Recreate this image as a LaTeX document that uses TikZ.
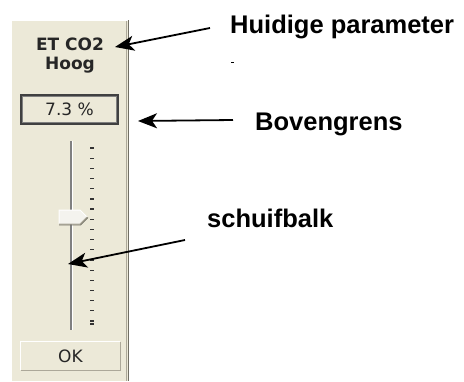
\documentclass[tikz,border=0pt]{standalone}
\usepackage{fontspec}
\setmainfont{Liberation Sans}
\newfontfamily\paneelfont{DejaVu Sans}
\usetikzlibrary{arrows.meta}
\definecolor{paneel}{HTML}{ECE9D8}
\definecolor{schaduw}{HTML}{ACA899}
\definecolor{donker}{HTML}{716F64}
\definecolor{knop}{HTML}{F4F3EE}

\begin{document}
\begin{tikzpicture}[x=1pt, y=-1pt,
    uitleg/.style={font=\fontsize{25.5}{30}\selectfont\bfseries, inner sep=0pt, anchor=base west},
    paneeltekst/.style={font=\paneelfont\fontsize{17}{20}\selectfont, text=black!85, inner sep=0pt},
    titeltekst/.style={font=\paneelfont\fontsize{17}{19}\selectfont\bfseries, text=black!85, inner sep=0pt},
    streep/.style={black!80, line width=1.2pt},
    pijl/.style={-{Stealth[length=19pt,width=15pt,inset=5pt]}, line width=1.8pt}]

    \useasboundingbox (0,0) rectangle (464,381);

    % Paneel met randen
    \fill[paneel] (11,20) rectangle (129,381);
    \draw[white, line width=1pt] (11.5,381) -- (11.5,20.5) -- (128,20.5);
    \draw[schaduw, line width=1pt] (126.5,21) -- (126.5,381);
    \draw[donker, line width=1.2pt] (128.4,20) -- (128.4,381);

    % Titel van de parameter
    \node (titel) [titeltekst, align=center, anchor=north] at (70,38) {ET CO2\\Hoog};

    % Vak met de bovengrens
    \node (grens) [paneeltekst, draw=black!75, line width=1.2pt, fill=paneel, minimum width=97pt, minimum height=29pt] at (69.5,109.5) {7.3 \%};
    \draw[gray, line width=0.8pt] ([shift={(2,2)}]grens.north west) rectangle ([shift={(-2,-2)}]grens.south east);

    % Groef van de schuifbalk
    \coordinate (groefboven) at (71,141);
    \coordinate (groefonder) at (71,330);
    \draw[gray, line width=1.5pt] (groefboven) -- (groefonder);
    \draw[white, line width=1.5pt] ([xshift=1.5pt]groefboven) -- ([xshift=1.5pt]groefonder);

    % Streepjes naast de groef
    \foreach \i in {0,...,17}
      \draw[streep] (90,148+\i*10.18) -- (94,148+\i*10.18);
    \draw[streep] (90,324) -- (94,324);

    % Schuif
    \fill[knop] (59,210) -- (80,210) -- (87,217) -- (80,224) -- (59,224) -- cycle;
    \draw[white, line width=1pt] (59,224) -- (59,210) -- (80,210) -- (87,217);
    \draw[schaduw, line width=1pt] (87,217) -- (80,224) -- (59,224);
    \draw[donker, line width=0.8pt] (88,217.5) -- (80.5,225) -- (59,225);

    % OK-knop
    \node (ok) [paneeltekst, minimum width=99pt, minimum height=28pt] at (70.5,356) {OK};
    \draw[white, line width=1pt] (ok.south west) -- (ok.north west) -- (ok.north east);
    \draw[schaduw, line width=1pt] (ok.north east) -- (ok.south east) -- (ok.south west);

    % Uitleg
    \node (huidig) [uitleg] at (230,33) {Huidige parameter};
    \node (bovengrens) [uitleg] at (255,130) {Bovengrens};
    \node (schuif) [uitleg] at (207,227) {schuifbalk};
    \draw[line width=0.6pt] (231,62) -- (233.5,62);

    % Pijlen naar het paneel
    \coordinate (titelpunt) at (115,47);
    \coordinate (grenspunt) at (138,121);
    \coordinate (schuifpunt) at (68,264);
    \draw[pijl] ([xshift=-20pt,yshift=5pt]huidig.base west) -- (titelpunt);
    \draw[pijl] ([xshift=-22pt,yshift=10pt]bovengrens.base west) -- (grenspunt);
    \draw[pijl] ([xshift=-22pt,yshift=-13pt]schuif.base west) -- (schuifpunt);

\end{tikzpicture}
\end{document}
